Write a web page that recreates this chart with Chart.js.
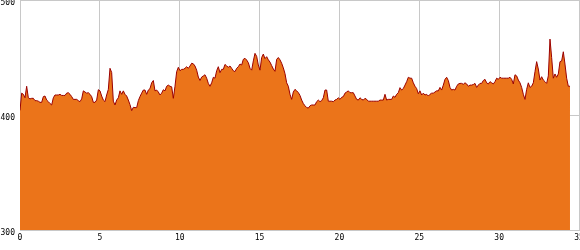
<!DOCTYPE html>
<html>
<head>
<meta charset="utf-8">
<script src="https://cdn.jsdelivr.net/npm/chart.js@4/dist/chart.umd.min.js"></script>
<style>
  html, body { margin: 0; padding: 0; background: #fff; }
  #wrap { width: 580px; height: 250px; }
</style>
</head>
<body>
<div id="wrap"><canvas id="myChart"></canvas></div>
<script>
// x ticks / y ticks
const xTicks = [0, 5, 10, 15, 20, 25, 30, 35];
const yTicks = [300, 400, 500];

// one sample every sampleStep units along x, starting at 0
const sampleStep = 0.10435;
const values = [
  404, 419, 418, 415, 425, 415, 414, 414.5, 414.5, 412.5,
  412.5, 412, 411, 411, 416, 416.5, 413, 411.6, 410, 408.7,
  415, 417.4, 417.4, 417.4, 418, 417, 417, 417, 419, 419.4,
  418, 416, 413.6, 413.6, 413.6, 412.5, 411.6, 414, 421, 420,
  419, 419.4, 418, 416, 411, 411, 413, 422, 421, 416.5,
  413, 411.6, 417.4, 422.3, 440.6, 437, 412, 408.7, 413, 415,
  421, 418, 421, 418, 416.5, 413, 409, 403.8, 406.7, 406.4,
  406.4, 412.5, 416, 419, 421.7, 421.7, 418, 421.7, 423, 428,
  430, 421, 421.7, 420, 417.4, 419, 422, 421, 425, 426,
  425, 424.5, 414.5, 425, 437.7, 441.5, 438.5, 439.7, 439.7, 440.6,
  442, 440.6, 442.6, 445, 444.5, 442.6, 439, 433, 430, 433,
  434, 435, 432, 427.5, 425, 428, 432.8, 432, 438.5, 442,
  436.8, 439.7, 439.7, 444, 442.6, 441.5, 442.6, 440.6, 438.5, 437.7,
  440.6, 442, 444.3, 443.5, 448.4, 449.3, 447.8, 445.5, 440.6, 439,
  447, 453.6, 451, 443.5, 439, 450, 453, 449, 450.7, 448,
  446, 443, 440, 438, 448.4, 450, 448, 445, 441, 436,
  428, 425, 418, 413.6, 420, 422.3, 421, 419.5, 417, 413,
  410, 408, 406.5, 406, 408, 408.7, 408.7, 408.7, 411.6, 413,
  411.6, 412.5, 415, 421.7, 421.7, 412, 412, 412, 411.6, 413,
  413.6, 415, 413.6, 415.4, 416, 419, 420, 421, 419.4, 419.4,
  419.4, 416.5, 413.6, 413, 415, 413.6, 413, 414.5, 413.6, 412,
  412, 412, 412, 412, 412, 412, 413, 413, 413, 418,
  413, 413.6, 413.6, 413.6, 416.5, 415.4, 418, 419.4, 423.8, 421.7,
  423, 426, 429, 432.8, 432, 432, 428, 425, 423, 418.5,
  421, 417.4, 419, 417.4, 418, 416.5, 418, 419, 419, 420,
  421, 421, 424, 421.7, 426, 431, 432.8, 430, 424, 421.7,
  422.3, 421.7, 425, 427, 427.5, 427.5, 426.7, 428, 427, 425,
  426, 426, 426.5, 427.5, 424, 426, 427.5, 427.5, 430, 431,
  428, 427, 429, 428, 427, 429, 432, 431, 432.8, 432,
  432, 432, 432, 432, 432.8, 431, 427, 435, 434, 430.4,
  428, 424, 418, 413.6, 422.3, 428, 424, 425, 428, 437.7,
  446.4, 440, 430.4, 433.3, 430.4, 429, 427.5, 434, 466, 450,
  432, 435.7, 432.8, 435.7, 446.4, 447, 455, 444.3, 432, 425,
  425
];

const points = values.map((v, i) => ({ x: i * sampleStep, y: v }));

const tickFont = { family: "DejaVu Sans Mono", size: 8 };

const ctx = document.getElementById("myChart");
const chart = new Chart(ctx, {
  type: "line",
  data: {
    datasets: [
      {
        data: points,
        borderColor: "#9a0000",
        borderWidth: 1,
        backgroundColor: "#eb741a",
        fill: "start",
        pointRadius: 0,
        tension: 0,
      },
    ],
  },
  options: {
    responsive: true,
    maintainAspectRatio: false,
    animation: false,
    layout: { padding: { top: 0, right: 1, bottom: 0, left: 0 } },
    scales: {
      x: {
        type: "linear",
        min: 0,
        max: 35,
        afterBuildTicks: (scale) => {
          scale.ticks = xTicks.map((v) => ({ value: v }));
        },
        afterFit: (scale) => {
          scale.height = 20;
          scale.paddingLeft = 0;
          scale.paddingRight = 0;
        },
        ticks: {
          font: tickFont,
          color: "#000",
          padding: 3,
          maxRotation: 0,
        },
        grid: { color: "#c8c8c8", lineWidth: 1, drawTicks: false },
        border: { color: "#c8c8c8" },
      },
      y: {
        min: 300,
        max: 500,
        afterBuildTicks: (scale) => {
          scale.ticks = yTicks.map((v) => ({ value: v }));
        },
        afterFit: (scale) => {
          scale.width = 20;
          scale.paddingTop = 0;
          scale.paddingBottom = 0;
        },
        ticks: {
          font: tickFont,
          color: "#000",
          padding: 5,
          labelOffset: 3,
        },
        grid: { color: "#c8c8c8", lineWidth: 1, drawTicks: false },
        border: { color: "#c8c8c8" },
      },
    },
    plugins: {
      legend: { display: false },
      tooltip: { enabled: false },
    },
  },
});
</script>
</body>
</html>
